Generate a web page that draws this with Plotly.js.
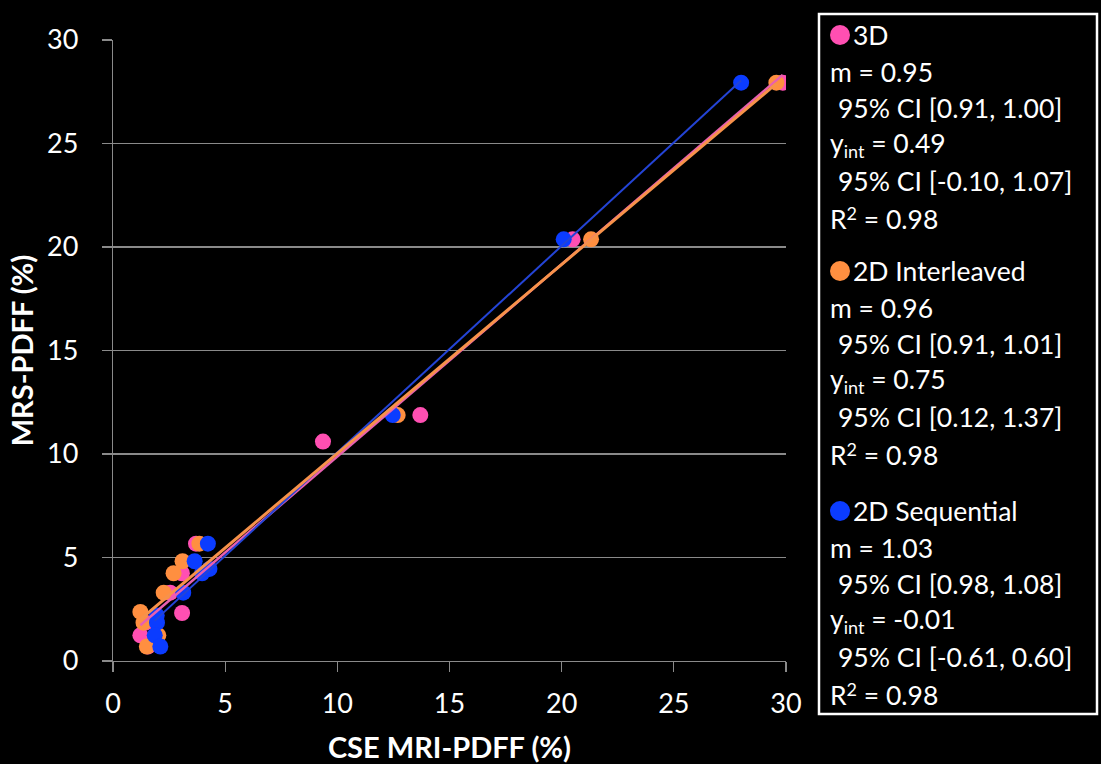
<!DOCTYPE html>
<html>
<head>
<meta charset="utf-8">
<script src="https://cdn.plot.ly/plotly-3.0.1.min.js"></script>
<style>html,body{margin:0;padding:0;background:#000;}#chart{width:1101px;height:764px;}</style>
</head>
<body>
<div id="chart"></div>
<script>
// ---- Data ----
const seriesNames = ["3D", "2D Interleaved", "2D Sequential"];

const x3D = [29.85, 20.49, 13.70, 9.36, 3.70, 3.07, 2.55, 3.08, 1.45, 1.22, 1.55];
const y3D = [27.94, 20.37, 11.88, 10.60, 5.67, 4.24, 3.30, 2.32, 1.85, 1.24, 0.70];

const xInter = [29.57, 21.31, 12.69, 3.85, 3.10, 2.70, 2.26, 1.22, 1.36, 2.02, 1.51];
const yInter = [27.94, 20.37, 11.88, 5.67, 4.82, 4.24, 3.30, 2.37, 1.85, 1.24, 0.70];

const xSeq = [28.00, 20.09, 12.47, 4.23, 3.64, 3.97, 4.30, 3.13, 1.95, 1.96, 1.86, 2.11];
const ySeq = [27.94, 20.37, 11.88, 5.67, 4.82, 4.24, 4.45, 3.30, 2.20, 1.85, 1.24, 0.70];

const SUB = t => '<span style="font-size:18px;baseline-shift:-5px">' + t + '</span>';
const SUP = t => '<span style="font-size:18px;baseline-shift:9px">' + t + '</span>';

const statLines3D = ["m = 0.95", "95% CI [0.91, 1.00]", "y" + SUB("int") + " = 0.49", "95% CI [-0.10, 1.07]", "R" + SUP("2") + " = 0.98"];
const statLinesInter = ["m = 0.96", "95% CI [0.91, 1.01]", "y" + SUB("int") + " = 0.75", "95% CI [0.12, 1.37]", "R" + SUP("2") + " = 0.98"];
const statLinesSeq = ["m = 1.03", "95% CI [0.98, 1.08]", "y" + SUB("int") + " = -0.01", "95% CI [-0.61, 0.60]", "R" + SUP("2") + " = 0.98"];

const xTicks = [0, 5, 10, 15, 20, 25, 30];
const yTicks = [0, 5, 10, 15, 20, 25, 30];

// ---- Styles ----
const markerColors = ["#FF4FB2", "#FF8F40", "#0B3CFF"];
const lineColors = ["#E860B0", "#F7924A", "#2444D6"];
const lineWidths = [2.5, 3, 2];
const FONT = "Lato, 'Open Sans', sans-serif";

// Least-squares fit line over the data range
function fit(xs, ys) {
  const n = xs.length;
  let sx = 0, sy = 0, sxx = 0, sxy = 0;
  for (let i = 0; i < n; i++) { sx += xs[i]; sy += ys[i]; sxx += xs[i]*xs[i]; sxy += xs[i]*ys[i]; }
  const m = (n*sxy - sx*sy) / (n*sxx - sx*sx);
  const b = (sy - m*sx) / n;
  const x0 = Math.min(...xs), x1 = Math.max(...xs);
  return {x: [x0, x1], y: [m*x0 + b, m*x1 + b]};
}

const sets = [[x3D, y3D], [xInter, yInter], [xSeq, ySeq]];
const traces = [];
sets.forEach((s, i) => {
  traces.push({x: s[0], y: s[1], type: "scatter", mode: "markers", name: seriesNames[i],
    marker: {color: markerColors[i], size: 16, line: {width: 0}}, hoverinfo: "x+y", showlegend: false});
});
[0, 2, 1].forEach(i => {
  const f = fit(sets[i][0], sets[i][1]);
  traces.push({x: f.x, y: f.y, type: "scatter", mode: "lines", showlegend: false, hoverinfo: "skip",
    line: {color: lineColors[i], width: lineWidths[i]}});
});

// pixel -> paper helpers (plot area 113..786 x 40..661)
const L = 113, R = 786, T = 40, B = 661;
const px = v => (v - L) / (R - L);
const py = v => (B - v) / (B - T);

const annotations = [];
const shapes = [];
const groups = [
  {name: seriesNames[0], lines: statLines3D, top: 35, color: markerColors[0]},
  {name: seriesNames[1], lines: statLinesInter, top: 271, color: markerColors[1]},
  {name: seriesNames[2], lines: statLinesSeq, top: 511, color: markerColors[2]}
];
const lineGap = 36.6;
const LEG_SIZE = 26.5;
groups.forEach(g => {
  annotations.push({xref: "paper", yref: "paper", x: px(851), y: py(g.top), xanchor: "left", yanchor: "middle",
    text: g.name, showarrow: false, font: {family: FONT, size: LEG_SIZE, color: "#fff"}});
  shapes.push({type: "circle", xref: "paper", yref: "paper", x0: px(830), x1: px(850), y0: py(g.top + 10), y1: py(g.top - 10),
    fillcolor: g.color, line: {width: 0}});
  g.lines.forEach((t, k) => {
    const indent = (k % 2 === 1) ? 836 : 828;
    annotations.push({xref: "paper", yref: "paper", x: px(indent), y: py(g.top + lineGap * (k + 1)), xanchor: "left", yanchor: "middle",
      text: t, showarrow: false, font: {family: FONT, size: LEG_SIZE, color: "#fff"}});
  });
});
shapes.push({type: "rect", xref: "paper", yref: "paper", x0: px(819), x1: px(1097), y0: py(714), y1: py(14),
  line: {color: "#fff", width: 2.5}, fillcolor: "rgba(0,0,0,0)"});

const layout = {
  width: 1101, height: 764,
  paper_bgcolor: "#000", plot_bgcolor: "#000",
  margin: {l: L, r: 1101 - R, t: T, b: 764 - B},
  font: {family: FONT, color: "#fff"},
  showlegend: false,
  xaxis: {
    range: [0, 30], tickvals: xTicks, ticktext: xTicks.map(String),
    showgrid: false, zeroline: false, showline: true, linecolor: "#8a8a8a", linewidth: 1.3,
    ticks: "outside", ticklen: 10, tickcolor: "#8a8a8a", tickwidth: 1.3,
    tickfont: {family: FONT, size: 27, color: "#fff"}, ticklabelstandoff: 8,
    title: {text: "<b>CSE MRI-PDFF (%)</b>", font: {family: FONT, size: 29, color: "#fff"}, standoff: 22}
  },
  yaxis: {
    range: [0, 30], tickvals: yTicks, ticktext: yTicks.map(String),
    showgrid: true, gridcolor: "#8a8a8a", gridwidth: 1.3, zeroline: false,
    showline: true, linecolor: "#8a8a8a", linewidth: 1.3,
    ticks: "outside", ticklen: 10, tickcolor: "#8a8a8a", tickwidth: 1.3,
    tickfont: {family: FONT, size: 27, color: "#fff"}, ticklabelstandoff: 18,
    title: {text: "<b>MRS-PDFF (%)</b>", font: {family: FONT, size: 29, color: "#fff"}, standoff: 4}
  },
  annotations: annotations,
  shapes: shapes
};

Plotly.newPlot("chart", traces, layout, {displayModeBar: false, staticPlot: true});
</script>
</body>
</html>
